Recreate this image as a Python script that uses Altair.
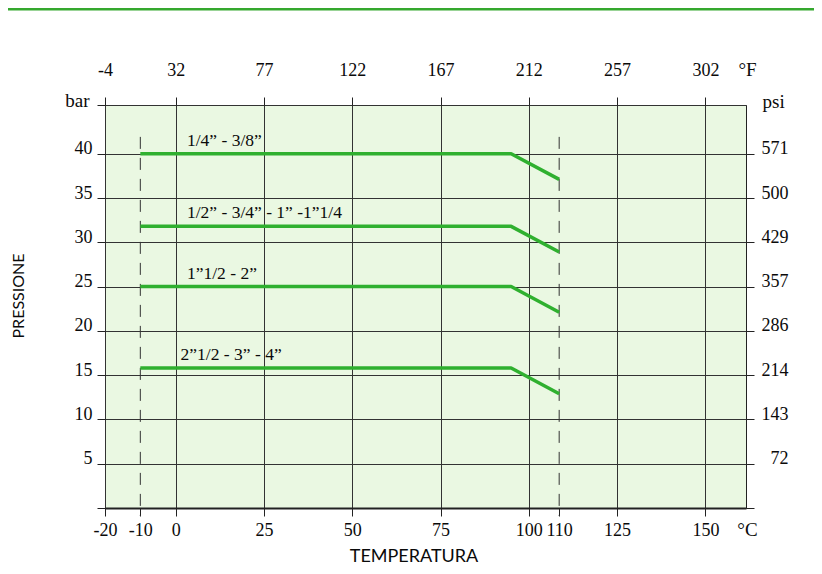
import altair as alt
import pandas as pd

# ---------------- data ----------------
sizes = ["1/4” - 3/8”", "1/2” - 3/4” - 1” -1”1/4", "1”1/2 - 2”", "2”1/2 - 3” - 4”"]
p_max = [40, 31.8, 25, 15.8]          # bar, constant part
p_end = [37.1, 28.9, 22.1, 12.9]      # bar at the 110 °C limit
t_start, t_knee, t_end = -10, 95, 108.6  # positions read on the drawn °C scale
label_t = [3.2, 3.2, 3.2, 1.4]
limit_t = [-10, 108.6]
limit_top = 41.9

c_ticks = [-20, -10, 0, 25, 50, 75, 100, 108.6, 125, 150]
c_labels = ["-20", "-10", "0", "25", "50", "75", "100", "110", "125", "150"]
c_grid = [-20, 0, 25, 50, 75, 100, 125, 150]
f_labels = ["-4", "32", "77", "122", "167", "212", "257", "302"]
bar_ticks = [5, 10, 15, 20, 25, 30, 35, 40]
psi_labels = ["72", "143", "214", "286", "357", "429", "500", "571"]
x_domain = [-20, 161.5]
y_domain = [0, 45.5]

x_title = "TEMPERATURA"
y_title = "PRESSIONE"

# ---------------- tables ----------------
rows = []
for s, pm, pe in zip(sizes, p_max, p_end):
    rows += [
        {"series": s, "t": t_start, "p": pm, "o": 0},
        {"series": s, "t": t_knee, "p": pm, "o": 1},
        {"series": s, "t": t_end, "p": pe, "o": 2},
    ]
df_lines = pd.DataFrame(rows)
df_labels = pd.DataFrame({"series": sizes, "t": label_t, "p": p_max})
df_rules = pd.DataFrame({"t": limit_t, "top": [limit_top] * len(limit_t)})


def lookup_expr(vals, labs):
    e = "''"
    for v, l in reversed(list(zip(vals, labs))):
        e = f"abs(datum.value - ({v})) < 0.01 ? '{l}' : ({e})"
    return e


c_expr = lookup_expr(c_ticks, c_labels)
f_expr = lookup_expr(c_grid, f_labels)
psi_expr = lookup_expr(bar_ticks, psi_labels)
bar_expr = lookup_expr(bar_ticks, [str(b) for b in bar_ticks])

xs = alt.Scale(domain=x_domain, nice=False, zero=False)
ys = alt.Scale(domain=y_domain, nice=False, zero=False)

GREEN = "#2fb02f"
INK = "#0a0a0a"
SERIF = "Liberation Serif"

# ---------------- layers ----------------
rules = alt.Chart(df_rules).mark_rule(
    strokeDash=[12, 9], color="#333333", strokeWidth=1
).encode(
    x=alt.X("t:Q", scale=xs, axis=alt.Axis(
        orient="top", values=c_grid, grid=True, domain=False, ticks=True,
        tickSize=8, labelPadding=22, labelBaseline="alphabetic",
        labelExpr=f_expr, title="°F", titleX=642, titleY=-30, titleAngle=0,
        titleAlign="center", titleBaseline="alphabetic")),
    y=alt.Y("top:Q", scale=ys, axis=alt.Axis(
        orient="right", values=[0] + bar_ticks, grid=False, domain=False,
        tickSize=8, labelPadding=34, labelAlign="right",
        labelBaseline="alphabetic", labelExpr=psi_expr, title="psi",
        titleAngle=0, titleX=16, titleY=2, titleAlign="left",
        titleBaseline="alphabetic")),
    y2=alt.value(411),
)

lines = alt.Chart(df_lines).mark_line(
    color=GREEN, strokeWidth=3.5, strokeJoin="round"
).encode(
    x=alt.X("t:Q", scale=xs, axis=alt.Axis(
        orient="bottom", values=c_ticks, grid=False, domain=True,
        domainWidth=2, domainColor="#222222", tickSize=8, labelPadding=5,
        labelExpr=c_expr, title="°C", titleX=642, titleY=27, titleAngle=0,
        titleAlign="center", titleBaseline="alphabetic")),
    y=alt.Y("p:Q", scale=ys, axis=alt.Axis(
        orient="left", values=[0] + bar_ticks + [45.5], grid=True,
        domain=False, tickSize=8, labelPadding=5, labelBaseline="alphabetic",
        labelExpr=bar_expr, title="bar", titleAngle=0, titleX=-16, titleY=1,
        titleAlign="right", titleBaseline="alphabetic")),
    detail="series:N",
    order="o:Q",
)

labels = alt.Chart(df_labels).mark_text(
    align="left", baseline="alphabetic", dy=-8, font=SERIF, fontSize=17.5,
    color=INK
).encode(
    x=alt.X("t:Q", scale=xs, axis=None),
    y=alt.Y("p:Q", scale=ys, axis=None),
    text="series:N",
)

xt = alt.Chart(pd.DataFrame({"txt": [x_title]})).mark_text(
    font="Lato", fontSize=18, color=INK, align="center", baseline="alphabetic"
).encode(x=alt.value(309), y=alt.value(457), text="txt:N")

yt = alt.Chart(pd.DataFrame({"txt": [y_title]})).mark_text(
    font="Lato", fontSize=16, color=INK, align="center", baseline="middle",
    angle=270
).encode(x=alt.value(-86), y=alt.value(191), text="txt:N")

header = alt.Chart(pd.DataFrame({"k": [0]})).mark_rect(color="#35a82e").encode(
    x=alt.value(-97), x2=alt.value(709), y=alt.value(-97), y2=alt.value(-94.5)
)

chart = alt.layer(header, rules, lines, labels, xt, yt).resolve_axis(
    x="independent", y="independent"
).properties(
    width=641, height=403,
    padding={"left": 97, "top": 97, "right": 68, "bottom": 58},
    autosize=alt.AutoSizeParams(type="none"),
    background="white",
).configure_view(
    fill="#eaf8e2", stroke="#222222", strokeWidth=1
).configure_axis(
    labelFont=SERIF, labelFontSize=18, labelColor=INK,
    titleFont=SERIF, titleFontSize=19, titleFontWeight="normal",
    titleColor=INK, tickColor="#222222", tickWidth=1,
    gridColor="#333333", gridWidth=1, gridOpacity=1,
    labelFlush=False, labelOverlap=False,
)

chart.save("out.html", embed_options={"renderer": "svg", "actions": False})
